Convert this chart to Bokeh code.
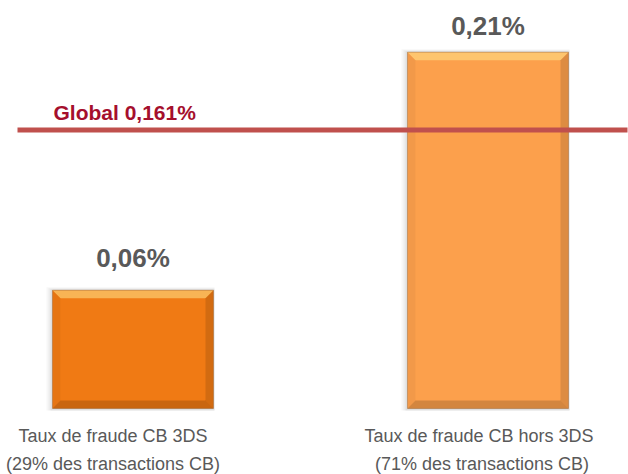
from bokeh.plotting import figure
from bokeh.models import Range1d, ColumnDataSource
from bokeh.embed import file_html
from bokeh.resources import INLINE
from bokeh.core.properties import value

# ---------------- data ----------------
category_line1 = ["Taux de fraude CB 3DS", "Taux de fraude CB hors 3DS"]
category_line2 = ["(29% des transactions CB)", "(71% des transactions CB)"]
fraud_rates = [0.06, 0.21]          # in %
global_rate = 0.161                 # in %
global_name = "Global"

# ---------------- style / layout ----------------
bar_colors = ["#F07A14", "#FCA04C"]
label_gray = "#595959"
global_color = "#A50F2D"
line_color = "#C0504D"
FONT = "Liberation Sans"

W, H = 628, 474
X0, X1 = -0.3732, 1.3958
Y0, Y1 = -0.0561, 0.2426
BASE = -0.0145
BW = 0.4535
sx = W / (X1 - X0)
sy = H / (Y1 - Y0)


def dx(px):
    return px / sx


def dy(px):
    return px / sy


def fmt(v, nd):
    return f"{v:.{nd}f}".replace(".", ",") + "%"


xs = list(range(len(fraud_rates)))

p = figure(width=W, height=H, output_backend="svg", toolbar_location=None,
           x_range=Range1d(X0, X1), y_range=Range1d(Y0, Y1), min_border=0)
p.axis.visible = False
p.grid.visible = False
p.outline_line_color = None
p.background_fill_color = "white"
p.border_fill_color = "white"

# shadows (soft, layered)
for k, a in [(6, 0.06), (4, 0.08), (2, 0.12)]:
    p.quad(left=[x - BW / 2 - dx(k) for x in xs], right=[x + BW / 2 + dx(1) for x in xs],
           top=[v + dy(k / 2) for v in fraud_rates], bottom=[BASE - dy(2)] * len(xs),
           fill_color="#7F7F7F", fill_alpha=a, line_color=None)

# bars
src = ColumnDataSource(dict(x=xs, top=fraud_rates, color=bar_colors))
p.vbar(x="x", top="top", bottom=BASE, width=BW, fill_color="color", line_color=None, source=src)

# bevel edges
d = 8
tops_x, tops_y, bots_x, bots_y, rights_x, rights_y, lefts_x, lefts_y = [], [], [], [], [], [], [], []
for x, v in zip(xs, fraud_rates):
    L, R, T, B = x - BW / 2, x + BW / 2, v, BASE
    tops_x.append([L, R, R - dx(d), L + dx(d)])
    tops_y.append([T, T, T - dy(d), T - dy(d)])
    bots_x.append([L, R, R - dx(d), L + dx(d)])
    bots_y.append([B, B, B + dy(d), B + dy(d)])
    rights_x.append([R, R, R - dx(d), R - dx(d)])
    rights_y.append([T, B, B + dy(d), T - dy(d)])
    lefts_x.append([L, L, L + dx(d), L + dx(d)])
    lefts_y.append([T, B, B + dy(d), T - dy(d)])
p.patches(tops_x, tops_y, fill_color="#FFE38A", fill_alpha=0.55, line_color=None)
p.patches(bots_x, bots_y, fill_color="#000000", fill_alpha=0.16, line_color=None)
p.patches(rights_x, rights_y, fill_color="#000000", fill_alpha=0.12, line_color=None)
p.patches(lefts_x, lefts_y, fill_color="#000000", fill_alpha=0.04, line_color=None)
p.quad(left=[x - BW / 2 for x in xs], right=[x + BW / 2 for x in xs], top=fraud_rates,
       bottom=BASE, fill_color=None, line_color="#8A4A10", line_alpha=0.35, line_width=1)

# global line
p.segment(x0=[X0 + dx(17)], x1=[X1 - dx(1)], y0=[global_rate], y1=[global_rate],
          line_color=line_color, line_width=5)
p.text(x=[xs[0] - BW / 2 + dx(1)], y=[global_rate], text=[f"{global_name} {fmt(global_rate, 3)}"],
       text_font=value(FONT), text_font_style="bold", text_font_size="21px",
       text_color=global_color, text_align="left", text_baseline="alphabetic", y_offset=-17)

# value labels
p.text(x=xs, y=fraud_rates, text=[fmt(v, 2) for v in fraud_rates], y_offset=[-32, -26],
       text_font=value(FONT), text_font_style="bold", text_font_size="26px",
       text_color=label_gray, text_align="center", text_baseline="alphabetic")

# category labels
p.text(x=xs, y=[BASE] * len(xs), text=category_line1, x_offset=[-20, -9], y_offset=28,
       text_font=value(FONT), text_font_size="18px", text_color=label_gray,
       text_align="center", text_baseline="middle")
p.text(x=xs, y=[BASE] * len(xs), text=category_line2, x_offset=[-20, -6], y_offset=56,
       text_font=value(FONT), text_font_size="18px", text_color=label_gray,
       text_align="center", text_baseline="middle")

open("out.html", "w").write(file_html(p, INLINE))
